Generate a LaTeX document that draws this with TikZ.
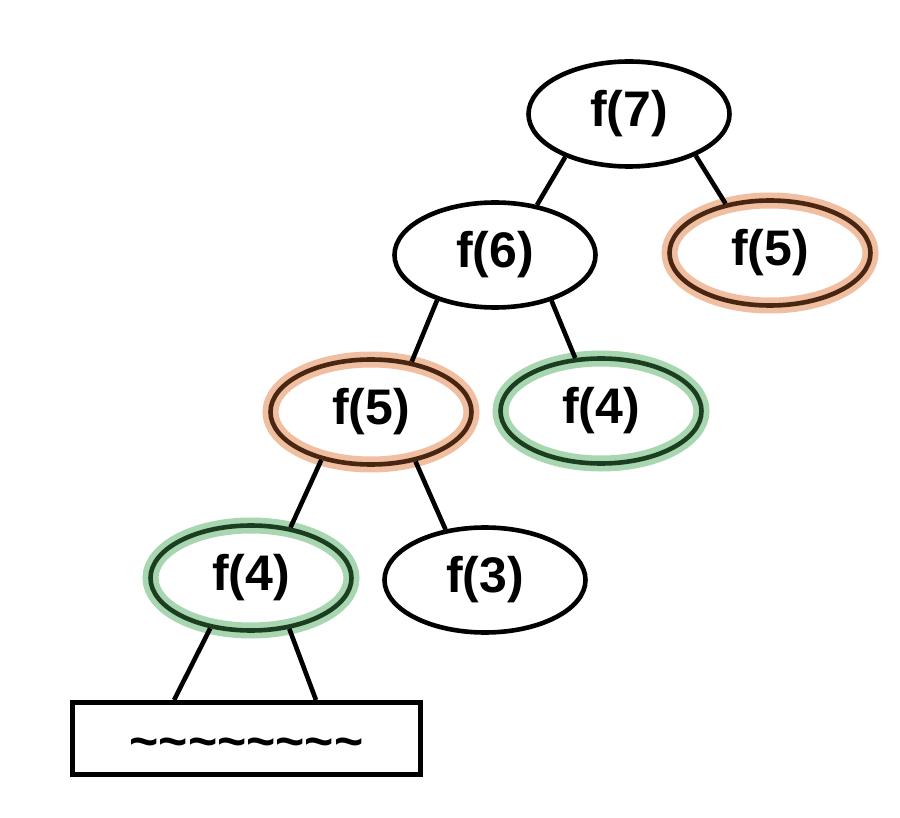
\documentclass[tikz,border=0pt]{standalone}
\usepackage{fontspec}
\setmainfont{Liberation Sans}
\usetikzlibrary{shapes.geometric}
\definecolor{orangeglow}{RGB}{240,190,160}
\definecolor{orangeline}{RGB}{72,38,18}
\definecolor{greenglow}{RGB}{168,214,176}
\definecolor{greenline}{RGB}{28,62,32}

\begin{document}
\begin{tikzpicture}[x=1pt, y=-1pt, line width=4.6pt,
    call/.style={ellipse, draw, minimum width=201pt, minimum height=105pt, inner sep=0pt,
      font=\fontsize{50}{60}\selectfont\bfseries},
    seenfive/.style={call, draw=orangeline, preaction={draw=orangeglow, line width=16pt}},
    seenfour/.style={call, draw=greenline, preaction={draw=greenglow, line width=16pt}},
    restbox/.style={rectangle, draw, line width=5pt, minimum width=348pt, minimum height=72pt,
      inner sep=0pt, font=\fontsize{50}{60}\selectfont\bfseries}]
    \useasboundingbox (0,0) rectangle (900,818);

    \node [call] (f7) at (629, 114) {f(7)};
    \node [call] (f6) at (495, 255) {f(6)};
    \node [seenfive] (f5r) at (770, 253) {f(5)};
    \node [seenfive] (f5) at (371, 412) {f(5)};
    \node [seenfour] (f4r) at (601, 411) {f(4)};
    \node [seenfour] (f4) at (251, 578) {f(4)};
    \node [call] (f3) at (485, 580) {f(3)};
    \node [restbox] (rest) at (246.5, 738.5) {\raisebox{-20pt}[0pt][0pt]{\textasciitilde\textasciitilde\textasciitilde\textasciitilde\textasciitilde\textasciitilde\textasciitilde\textasciitilde}};

    \draw (f7.214) -- (f6.50);
    \draw (f7.328) -- (f5r.132);
    \draw (f6.218) -- (f5.51);
    \draw (f6.321) -- (f4r.116);
    \draw (f5.224) -- (f4.52);
    \draw (f5.312) -- (f3.128);
    \draw (f4.231) -- (rest.152);
    \draw (f4.307) -- (rest.29);
\end{tikzpicture}
\end{document}
